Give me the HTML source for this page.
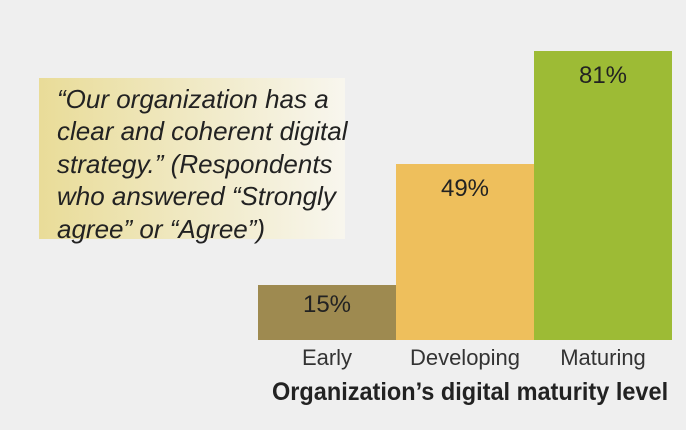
<!DOCTYPE html>
<html><head><style>
body{margin:0;width:686px;height:430px;background:#efefef;position:relative;overflow:hidden;font-family:"Liberation Sans Narrow","Liberation Sans",sans-serif;color:#222}
.box{position:absolute;left:39px;top:78px;width:306px;height:161px;background:linear-gradient(90deg,#e9dc98 0%,#f0e9c4 50%,#f8f6ee 100%)}
.q{position:absolute;left:57px;top:83px;font-style:italic;font-size:26px;line-height:32.4px;white-space:nowrap;color:#222}
.bar{position:absolute}
.v{position:absolute;width:138px;text-align:center;font-size:24px;color:#222}
.l{position:absolute;width:138px;text-align:center;font-size:22px;top:345px;color:#333}
.t{position:absolute;left:272px;top:378px;font-size:25px;font-weight:bold;white-space:nowrap;transform:scaleX(.94);transform-origin:0 0;color:#222}
</style></head><body>
<div class="box"></div>
<div class="q">“Our organization has a<br>clear and coherent digital<br>strategy.” (Respondents<br>who answered “Strongly<br>agree” or “Agree”)</div>
<div class="bar" style="left:258px;top:285px;width:138px;height:55px;background:#9e8a50"></div>
<div class="bar" style="left:396px;top:164px;width:138px;height:176px;background:#eebf5c"></div>
<div class="bar" style="left:534px;top:51px;width:138px;height:289px;background:#9dbb35"></div>
<div class="v" style="left:258px;top:291px">15%</div>
<div class="v" style="left:396px;top:175px">49%</div>
<div class="v" style="left:534px;top:62px">81%</div>
<div class="l" style="left:258px">Early</div>
<div class="l" style="left:396px">Developing</div>
<div class="l" style="left:534px">Maturing</div>
<div class="t">Organization’s digital maturity level</div>
</body></html>
